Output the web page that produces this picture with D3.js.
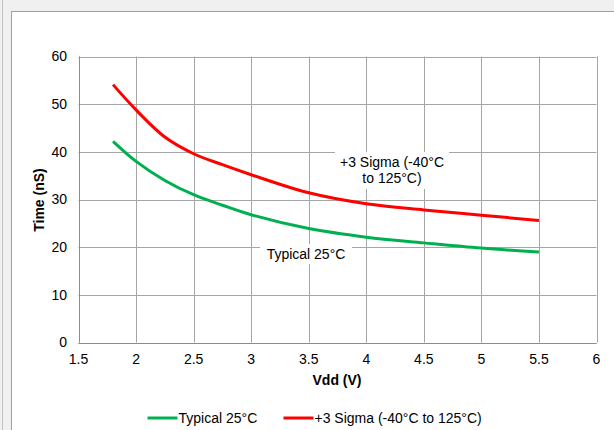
<!DOCTYPE html>
<html><head><meta charset="utf-8">
<script src="https://cdn.jsdelivr.net/npm/d3@7"></script>
<style>
html,body{margin:0;padding:0;background:#f0f0f0;}
svg{display:block;font-family:"Liberation Sans",Arial,sans-serif;}
</style></head>
<body>
<script>
const vdd = [1.8, 2.0, 2.25, 2.5, 2.75, 3.0, 3.5, 4.0, 4.5, 5.0, 5.5];
const typical = [42.2, 38.0, 34.0, 31.0, 28.8, 26.8, 23.9, 22.1, 20.9, 19.8, 19.0];
const sigma = [54.1, 48.8, 43.1, 39.6, 37.3, 35.2, 31.4, 29.1, 27.8, 26.7, 25.6];
const xTicks = [1.5, 2, 2.5, 3, 3.5, 4, 4.5, 5, 5.5, 6];
const yTicks = [0, 10, 20, 30, 40, 50, 60];
const seriesNames = ["Typical 25°C", "+3 Sigma (-40°C to 125°C)"];
const seriesColors = ["#00b050", "#ff0000"];

const W = 614, H = 430;
const svg = d3.select("body").append("svg").attr("width", W).attr("height", H);

// window chrome
svg.append("rect").attr("x",0).attr("y",0).attr("width",W).attr("height",H).attr("fill","#f0f0f0");
svg.append("line").attr("x1",2.5).attr("x2",2.5).attr("y1",0).attr("y2",H).attr("stroke","#c4c4c4").attr("stroke-width",1);
svg.append("rect").attr("x",11.5).attr("y",11.5).attr("width",W).attr("height",H).attr("fill","#fff").attr("stroke","#a0a0a0").attr("stroke-width",1);

const x = d3.scaleLinear().domain([1.5, 6]).range([78.5, 596.5]);
const y = d3.scaleLinear().domain([0, 60]).range([342.5, 56.5]);

// grid
const g = svg.append("g");
g.selectAll("line.v").data(xTicks).join("line")
  .attr("x1", d => Math.round(x(d)) + 0.5).attr("x2", d => Math.round(x(d)) + 0.5)
  .attr("y1", y(60)).attr("y2", y(0)).attr("stroke", "#a6a6a6").attr("stroke-width", 1);
g.selectAll("line.h").data(yTicks).join("line")
  .attr("y1", d => Math.round(y(d)) + 0.5).attr("y2", d => Math.round(y(d)) + 0.5)
  .attr("x1", x(1.5)).attr("x2", x(6)).attr("stroke", "#a6a6a6").attr("stroke-width", 1);
// axes lines
g.append("line").attr("x1", Math.round(x(1.5))+0.5).attr("x2", Math.round(x(1.5))+0.5).attr("y1", y(60)).attr("y2", y(0)).attr("stroke","#8c8c8c");
g.append("line").attr("x1", x(1.5)).attr("x2", x(6)).attr("y1", Math.round(y(0))+0.5).attr("y2", Math.round(y(0))+0.5).attr("stroke","#8c8c8c");

// tick labels
svg.append("g").selectAll("text").data(yTicks).join("text")
  .attr("x", 67).attr("y", d => y(d)).attr("dy", "0.35em").attr("text-anchor", "end")
  .attr("font-size", 14).attr("fill", "#000").text(d => d);
svg.append("g").selectAll("text").data(xTicks).join("text")
  .attr("x", d => x(d)).attr("y", 359).attr("dy", "0.35em").attr("text-anchor", "middle")
  .attr("font-size", 14).attr("fill", "#000").text(d => d);

// axis titles
svg.append("text").attr("x", 337).attr("y", 380).attr("dy", "0.35em").attr("text-anchor", "middle")
  .attr("font-size", 14).attr("font-weight", "bold").text("Vdd (V)");
svg.append("text").attr("transform", "translate(39,200) rotate(-90)").attr("dy", "0.35em").attr("text-anchor", "middle")
  .attr("font-size", 14).attr("font-weight", "bold").text("Time (nS)");

// lines
const line = d3.line().x(d => x(d[0])).y(d => y(d[1])).curve(d3.curveCatmullRom.alpha(0.5));
[typical, sigma].forEach((vals, i) => {
  svg.append("path").datum(vdd.map((v, j) => [v, vals[j]]))
    .attr("d", line).attr("fill", "none").attr("stroke", seriesColors[i]).attr("stroke-width", 3)
    .attr("stroke-linejoin", "round");
});

// data labels
function label(cx, lines, top, bw, bh) {
  const gg = svg.append("g");
  gg.append("rect").attr("x", cx - bw/2).attr("y", top).attr("width", bw).attr("height", bh).attr("fill", "#fff");
  lines.forEach((t, i) => {
    gg.append("text").attr("x", cx).attr("y", top + 10 + i*16).attr("dy", "0.35em")
      .attr("text-anchor", "middle").attr("font-size", 14).text(t);
  });
}
label(392, ["+3 Sigma (-40°C", "to 125°C)"], 152, 114, 37);
label(306, ["Typical 25°C"], 244, 92, 20);

// legend
const legX = [147.5, 283.5];
seriesNames.forEach((n, i) => {
  svg.append("line").attr("x1", legX[i]).attr("x2", legX[i] + 30).attr("y1", 418).attr("y2", 418)
    .attr("stroke", seriesColors[i]).attr("stroke-width", 3);
  svg.append("text").attr("x", legX[i] + 31).attr("y", 418).attr("dy", "0.35em").attr("font-size", 14).text(n);
});
</script>
</body></html>
